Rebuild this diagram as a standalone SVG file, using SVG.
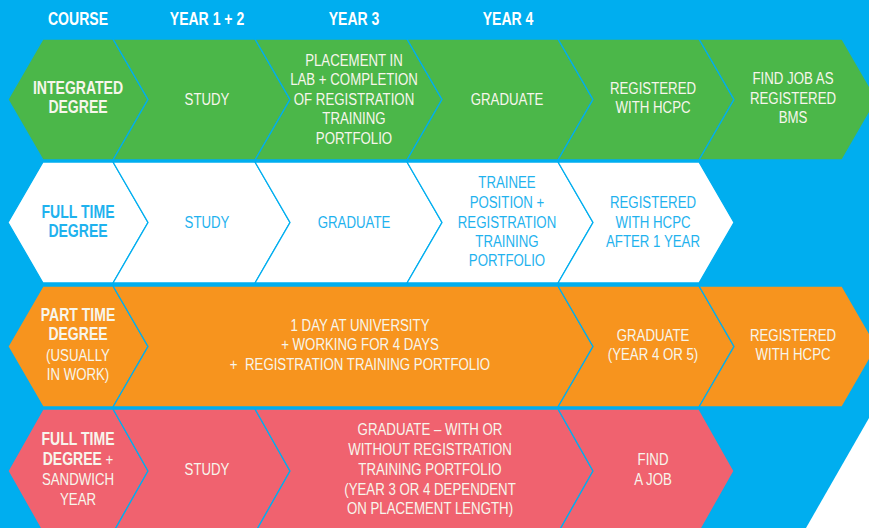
<svg xmlns="http://www.w3.org/2000/svg" width="869" height="528" viewBox="0 0 869 528">
<style>
.bg{fill:#00AEEF}
.sep{stroke:#00AEEF;stroke-width:1.3;stroke-linejoin:miter}
.g{fill:#4BB749}
.w{fill:#FFFFFF}
.o{fill:#F7941E}
.p{fill:#F0626F}
text{font-family:"Liberation Sans Narrow","Liberation Sans",Arial,sans-serif;text-anchor:middle}
.hd{font-size:18px;font-weight:bold;fill:#FFFFFF}
.b{font-size:18px;font-weight:bold}
.t{font-size:17px}
.tw{fill:#F7F6EC}
.tb{fill:#1FB2EE}
</style>
<rect class="bg" x="0" y="0" width="869" height="528"/>
<polygon points="869,418 806,528 869,528" fill="#FFFFFF"/>
<g id="header">
<text class="hd" transform="translate(78 0) scale(0.78 1)" x="0" y="25">COURSE</text>
<text class="hd" transform="translate(207 0) scale(0.78 1)" x="0" y="25">YEAR 1 + 2</text>
<text class="hd" transform="translate(354 0) scale(0.78 1)" x="0" y="25">YEAR 3</text>
<text class="hd" transform="translate(508 0) scale(0.78 1)" x="0" y="25">YEAR 4</text>
</g>
<g id="connectors"></g>
<!-- Row 1 -->
<g id="r1-course">
<polygon class="g sep" points="8,99.5 43,39 113,39 148,99.5 113,160 43,160"/>
<text class="b tw" transform="translate(78 0) scale(0.78 1)"><tspan x="0" y="94">INTEGRATED</tspan><tspan x="0" y="113">DEGREE</tspan></text>
</g>
<g id="r1-study">
<polygon class="g sep" points="113,39 255,39 290,99.5 255,160 113,160 148,99.5"/>
<text class="t tw" transform="translate(207 0) scale(0.78 1)" x="0" y="105.5">STUDY</text>
</g>
<g id="r1-placement">
<polygon class="g sep" points="255,39 407,39 442,99.5 407,160 255,160 290,99.5"/>
<text class="t tw" transform="translate(354 0) scale(0.78 1)"><tspan x="0" y="66">PLACEMENT IN</tspan><tspan x="0" y="85.5">LAB + COMPLETION</tspan><tspan x="0" y="105">OF REGISTRATION</tspan><tspan x="0" y="124.5">TRAINING</tspan><tspan x="0" y="144">PORTFOLIO</tspan></text>
</g>
<g id="r1-graduate">
<polygon class="g sep" points="407,39 558,39 593,99.5 558,160 407,160 442,99.5"/>
<text class="t tw" transform="translate(507 0) scale(0.78 1)" x="0" y="105.5">GRADUATE</text>
</g>
<g id="r1-registered">
<polygon class="g sep" points="558,39 699,39 734,99.5 699,160 558,160 593,99.5"/>
<text class="t tw" transform="translate(653 0) scale(0.78 1)"><tspan x="0" y="94">REGISTERED</tspan><tspan x="0" y="113.5">WITH HCPC</tspan></text>
</g>
<g id="r1-findjob">
<polygon class="g sep" points="699,39 842,39 877,99.5 842,160 699,160 734,99.5"/>
<text class="t tw" transform="translate(793 0) scale(0.78 1)"><tspan x="0" y="84.5">FIND JOB AS</tspan><tspan x="0" y="104">REGISTERED</tspan><tspan x="0" y="123.5">BMS</tspan></text>
</g>
<!-- Row 2 -->
<g id="r2-course">
<polygon class="w sep" points="8,222.5 43,162 113,162 148,222.5 113,283 43,283"/>
<text class="b tb" transform="translate(78 0) scale(0.78 1)"><tspan x="0" y="218">FULL TIME</tspan><tspan x="0" y="237">DEGREE</tspan></text>
</g>
<g id="r2-study">
<polygon class="w sep" points="113,162 255,162 290,222.5 255,283 113,283 148,222.5"/>
<text class="t tb" transform="translate(207 0) scale(0.78 1)" x="0" y="228.5">STUDY</text>
</g>
<g id="r2-graduate">
<polygon class="w sep" points="255,162 407,162 442,222.5 407,283 255,283 290,222.5"/>
<text class="t tb" transform="translate(354 0) scale(0.78 1)" x="0" y="228.5">GRADUATE</text>
</g>
<g id="r2-trainee">
<polygon class="w sep" points="407,162 558,162 593,222.5 558,283 407,283 442,222.5"/>
<text class="t tb" transform="translate(507 0) scale(0.78 1)"><tspan x="0" y="188.5">TRAINEE</tspan><tspan x="0" y="208">POSITION +</tspan><tspan x="0" y="227.5">REGISTRATION</tspan><tspan x="0" y="247">TRAINING</tspan><tspan x="0" y="266.5">PORTFOLIO</tspan></text>
</g>
<g id="r2-registered">
<polygon class="w sep" points="558,162 699,162 734,222.5 699,283 558,283 593,222.5"/>
<text class="t tb" transform="translate(653 0) scale(0.78 1)"><tspan x="0" y="208">REGISTERED</tspan><tspan x="0" y="227.5">WITH HCPC</tspan><tspan x="0" y="247">AFTER 1 YEAR</tspan></text>
</g>
<!-- Row 3 -->
<g id="r3-course">
<polygon class="o sep" points="8,346.5 43,286 113,286 148,346.5 113,407 43,407"/>
<text class="tw" transform="translate(78 0) scale(0.78 1)"><tspan class="b" x="0" y="321">PART TIME</tspan><tspan class="b" x="0" y="340">DEGREE</tspan><tspan class="t" x="0" y="361">(USUALLY</tspan><tspan class="t" x="0" y="380">IN WORK)</tspan></text>
</g>
<g id="r3-university">
<polygon class="o sep" points="113,286 558,286 593,346.5 558,407 113,407 148,346.5"/>
<text class="t tw" transform="translate(360 0) scale(0.78 1)" xml:space="preserve"><tspan x="0" y="331">1 DAY AT UNIVERSITY</tspan><tspan x="0" y="350.5">+ WORKING FOR 4 DAYS</tspan><tspan x="0" y="370">+  REGISTRATION TRAINING PORTFOLIO</tspan></text>
</g>
<g id="r3-graduate">
<polygon class="o sep" points="558,286 699,286 734,346.5 699,407 558,407 593,346.5"/>
<text class="t tw" transform="translate(653 0) scale(0.78 1)"><tspan x="0" y="341">GRADUATE</tspan><tspan x="0" y="360.5">(YEAR 4 OR 5)</tspan></text>
</g>
<g id="r3-registered">
<polygon class="o sep" points="699,286 842,286 877,346.5 842,407 699,407 734,346.5"/>
<text class="t tw" transform="translate(793 0) scale(0.78 1)"><tspan x="0" y="341">REGISTERED</tspan><tspan x="0" y="360.5">WITH HCPC</tspan></text>
</g>
<!-- Row 4 -->
<g id="r4-course">
<polygon class="p sep" points="8,471 43,409 113,409 148,471 113,533 43,533"/>
<text class="tw" transform="translate(78 0) scale(0.78 1)"><tspan class="b" x="0" y="445">FULL TIME</tspan><tspan x="0" y="465"><tspan class="b">DEGREE</tspan><tspan class="t"> +</tspan></tspan><tspan class="t" x="0" y="485">SANDWICH</tspan><tspan class="t" x="0" y="505">YEAR</tspan></text>
</g>
<g id="r4-study">
<polygon class="p sep" points="113,409 255,409 290,471 255,533 113,533 148,471"/>
<text class="t tw" transform="translate(207 0) scale(0.78 1)" x="0" y="475">STUDY</text>
</g>
<g id="r4-graduate">
<polygon class="p sep" points="255,409 558,409 593,471 558,533 255,533 290,471"/>
<text class="t tw" transform="translate(430 0) scale(0.78 1)"><tspan x="0" y="435">GRADUATE – WITH OR</tspan><tspan x="0" y="455">WITHOUT REGISTRATION</tspan><tspan x="0" y="475">TRAINING PORTFOLIO</tspan><tspan x="0" y="495">(YEAR 3 OR 4 DEPENDENT</tspan><tspan x="0" y="514.5">ON PLACEMENT LENGTH)</tspan></text>
</g>
<g id="r4-findjob">
<polygon class="p sep" points="558,409 699,409 734,471 699,533 558,533 593,471"/>
<text class="t tw" transform="translate(653 0) scale(0.78 1)"><tspan x="0" y="465">FIND</tspan><tspan x="0" y="485">A JOB</tspan></text>
</g>
</svg>
